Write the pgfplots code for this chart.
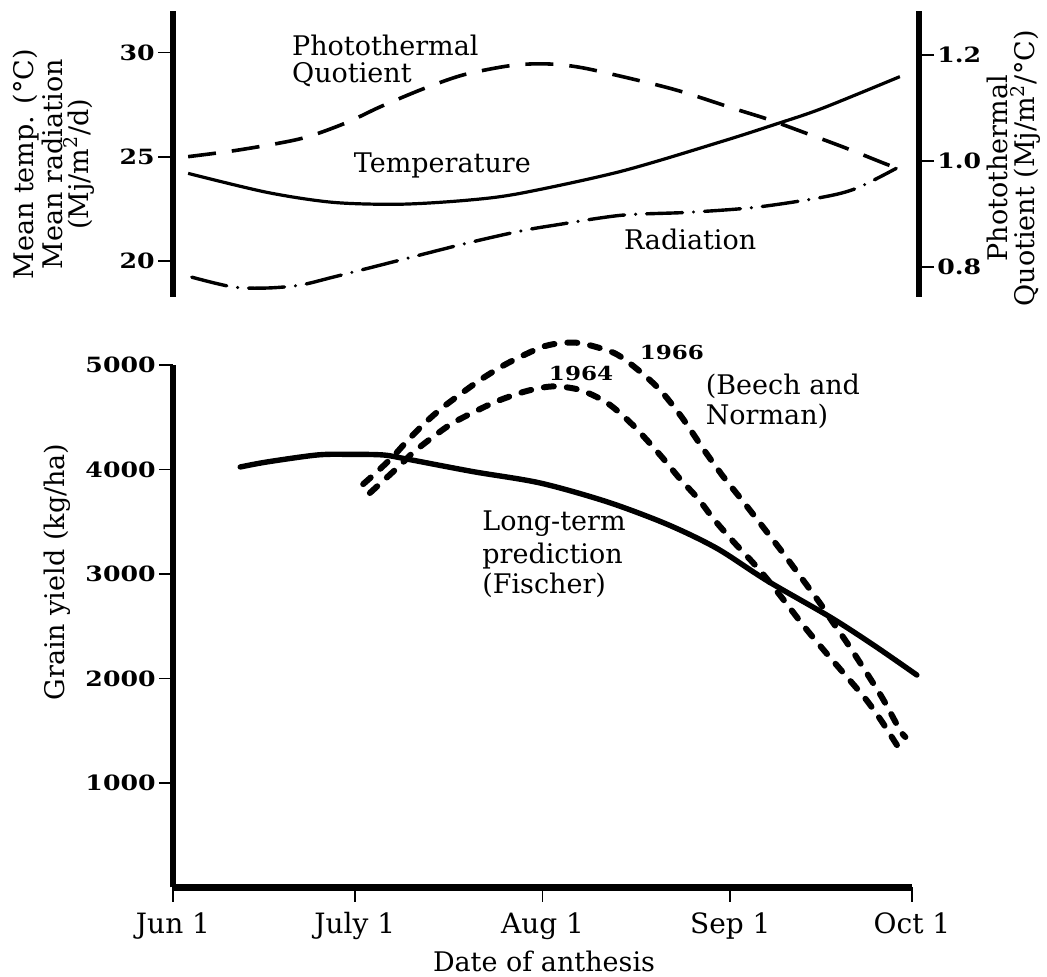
\documentclass[border=0pt]{standalone}
\usepackage{fontspec}
\setmainfont{DejaVu Serif}
\newfontfamily\tickfont[FakeStretch=1.2]{DejaVu Serif}
\usepackage{pgfplots}
\pgfplotsset{compat=1.18}

\pgfplotsset{
  panel/.style={
    scale only axis, clip=false,
    tick align=outside,
    axis line style={line width=3.2pt},
    every outer x axis line/.append style={-},
    every outer y axis line/.append style={-},
    major tick style={line width=0.8pt, black},
    y tick label style={font=\tickfont\bfseries\fontsize{10.5}{12}\selectfont, inner xsep=1.5pt},
  },
}
\tikzset{
  lbl/.style={font=\fontsize{13.5}{15}\selectfont},
  yr/.style={font=\tickfont\bfseries\fontsize{9.6}{11}\selectfont},
}

\begin{document}
\begin{tikzpicture}
\path[use as bounding box] (-86.5pt,-44.75pt) rectangle (437pt,443.75pt);

% lower panel: grain yield
\begin{axis}[panel, at={(0,0)}, anchor=south west,
  width=369.5pt, height=261.25pt,
  xmin=0, xmax=122, ymin=0, ymax=5000,
  axis x line*=bottom, axis y line*=left,
  major tick length=7pt,
  xtick={0,30,61,92,122}, xticklabels={Jun 1,July 1,Aug 1,Sep 1,Oct 1},
  x tick label style={font=\fontsize{14}{16}\selectfont, anchor=base, yshift=-15.75pt},
  ytick={1000,2000,3000,4000,5000}, yticklabels={1000,2000,3000,4000,5000},
]
  % long-term prediction (Fischer)
  \addplot[line width=2.7pt, smooth, line cap=round] coordinates {
    (11.1,4024) (15.5,4072) (23.8,4139) (29,4145) (34.7,4139) (38.6,4100)
    (49.5,3980) (60.6,3871) (71.7,3690) (81.6,3475) (89.8,3245) (98.1,2935)
    (108.6,2584) (115.9,2310) (122.8,2033)};
  % 1964
  \addplot[line width=3pt, smooth, line cap=round, dash pattern=on 5pt off 6.5pt] coordinates {
    (32.5,3775) (37.0,4014) (39.6,4160) (42.9,4311) (46.2,4445) (50.7,4579)
    (54.0,4665) (58.4,4751) (62.7,4795) (67.2,4761) (71.7,4636) (75.9,4426)
    (80.4,4140) (83.7,3910) (86.7,3720) (89.2,3530) (92.5,3310) (95.8,3105)
    (98.1,2950) (100.7,2760) (104.3,2490) (107.6,2260) (111.1,2025) (114.4,1800)
    (117.0,1590) (119.5,1364) (120.4,1297)};
  % 1966
  \addplot[line width=3pt, smooth, line cap=round, dash pattern=on 5pt off 6.5pt] coordinates {
    (31.4,3860) (34,3995) (36.5,4135) (38.5,4263) (41.4,4435) (44.4,4588)
    (47.7,4732) (51.2,4876) (55.3,5019) (60.6,5165) (63.4,5205) (66,5215)
    (68.4,5195) (73.0,5110) (76.8,4952) (80.4,4761) (84.0,4500) (87.5,4200)
    (90.8,3935) (94.1,3695) (97.4,3450) (100.7,3201) (104.0,2943) (107.0,2705)
    (109.0,2531) (111.3,2339) (114.2,2081) (117.2,1804) (120.0,1507) (120.9,1440)};

  \node[yr, anchor=base west] at (axis cs:60.9,4856) {1964};
  \node[yr, anchor=base west] at (axis cs:75.9,5048) {1966};
  \node[lbl, anchor=base west] at (axis cs:86.8,4713) {(Beech and};
  \node[lbl, anchor=base west] at (axis cs:86.8,4426) {Norman)};
  \node[lbl, anchor=base west] at (axis cs:49.9,3412) {Long-term};
  \node[lbl, anchor=base west] at (axis cs:49.9,3105) {prediction};
  \node[lbl, anchor=base west] at (axis cs:49.9,2818) {(Fischer)};
  \node[lbl, rotate=90] at (axis cs:-19.15,3019) {Grain yield (kg/ha)};
  \node[lbl, anchor=base] at (axis cs:61.25,-805) {Date of anthesis};
\end{axis}

% upper panel, left scale: temperature and radiation
\begin{axis}[panel, at={(0,295.25pt)}, anchor=south west,
  width=373pt, height=143pt,
  xmin=0, xmax=123.16, ymin=18.28, ymax=32,
  axis x line=none, axis y line*=left,
  major tick length=7.5pt,
  ytick={20,25,30}, yticklabels={20,25,30},
]
  % temperature
  \addplot[line width=1.6pt, smooth] coordinates {
    (2.5,24.21) (15.5,23.30) (26.4,22.82) (37.5,22.73) (48.5,22.92) (57.3,23.25)
    (74.0,24.31) (90.6,25.74) (99.4,26.56) (107.1,27.32) (120.0,28.85)};
  % radiation
  \addplot[line width=1.7pt, smooth, line cap=round, dash pattern=on 18pt off 5.5pt on 0pt off 5.5pt] coordinates {
    (3.1,19.23) (9.9,18.76) (15.5,18.71) (21.0,18.85) (26.4,19.23) (37.5,20.05)
    (48.5,20.86) (57.3,21.44) (62.9,21.72) (74.0,22.20) (85.0,22.34) (96.1,22.58)
    (107.1,23.06) (112.8,23.49) (119.4,24.45)};

  \node[lbl, anchor=base west] at (axis cs:18.5,29.86) {Photothermal};
  \node[lbl, anchor=base west] at (axis cs:18.5,28.56) {Quotient};
  \node[lbl, anchor=base west] at (axis cs:28.7,24.26) {Temperature};
  \node[lbl, anchor=base west] at (axis cs:73.3,20.57) {Radiation};
  \node[lbl, rotate=90, anchor=base] at (axis cs:-22.95,24.65) {Mean temp. (°C)};
  \node[lbl, rotate=90, anchor=base] at (axis cs:-18.2,24.65) {Mean radiation};
  \node[lbl, rotate=90, anchor=base] at (axis cs:-14.0,24.65) {(Mj/m\textsuperscript{2}/d)};
  \node[lbl, rotate=90, anchor=base] at (axis cs:137.7,24.45) {Photothermal};
  \node[lbl, rotate=90, anchor=base] at (axis cs:142.3,24.45) {Quotient (Mj/m\textsuperscript{2}/°C)};
\end{axis}

% upper panel, right scale: photothermal quotient
\begin{axis}[panel, at={(0,295.25pt)}, anchor=south west,
  width=373pt, height=143pt,
  xmin=0, xmax=123.16, ymin=0.743, ymax=1.283,
  axis x line=none, axis y line*=right,
  major tick length=7.5pt,
  ytick={0.8,1.0,1.2}, yticklabels={0.8,1.0,1.2},
]
  \addplot[line width=1.8pt, smooth, dash pattern=on 14pt off 8pt] coordinates {
    (2.5,1.008) (11.1,1.021) (21.1,1.042) (28.4,1.071) (34.2,1.102) (41.3,1.136)
    (47.8,1.162) (54.6,1.178) (59.1,1.183) (63.5,1.182) (68.4,1.174) (77.9,1.149)
    (84.2,1.130) (92.8,1.098) (98.1,1.079) (104.8,1.051) (110.9,1.025) (117.7,0.994)
    (119.5,0.987)};
\end{axis}
\end{tikzpicture}
\end{document}
